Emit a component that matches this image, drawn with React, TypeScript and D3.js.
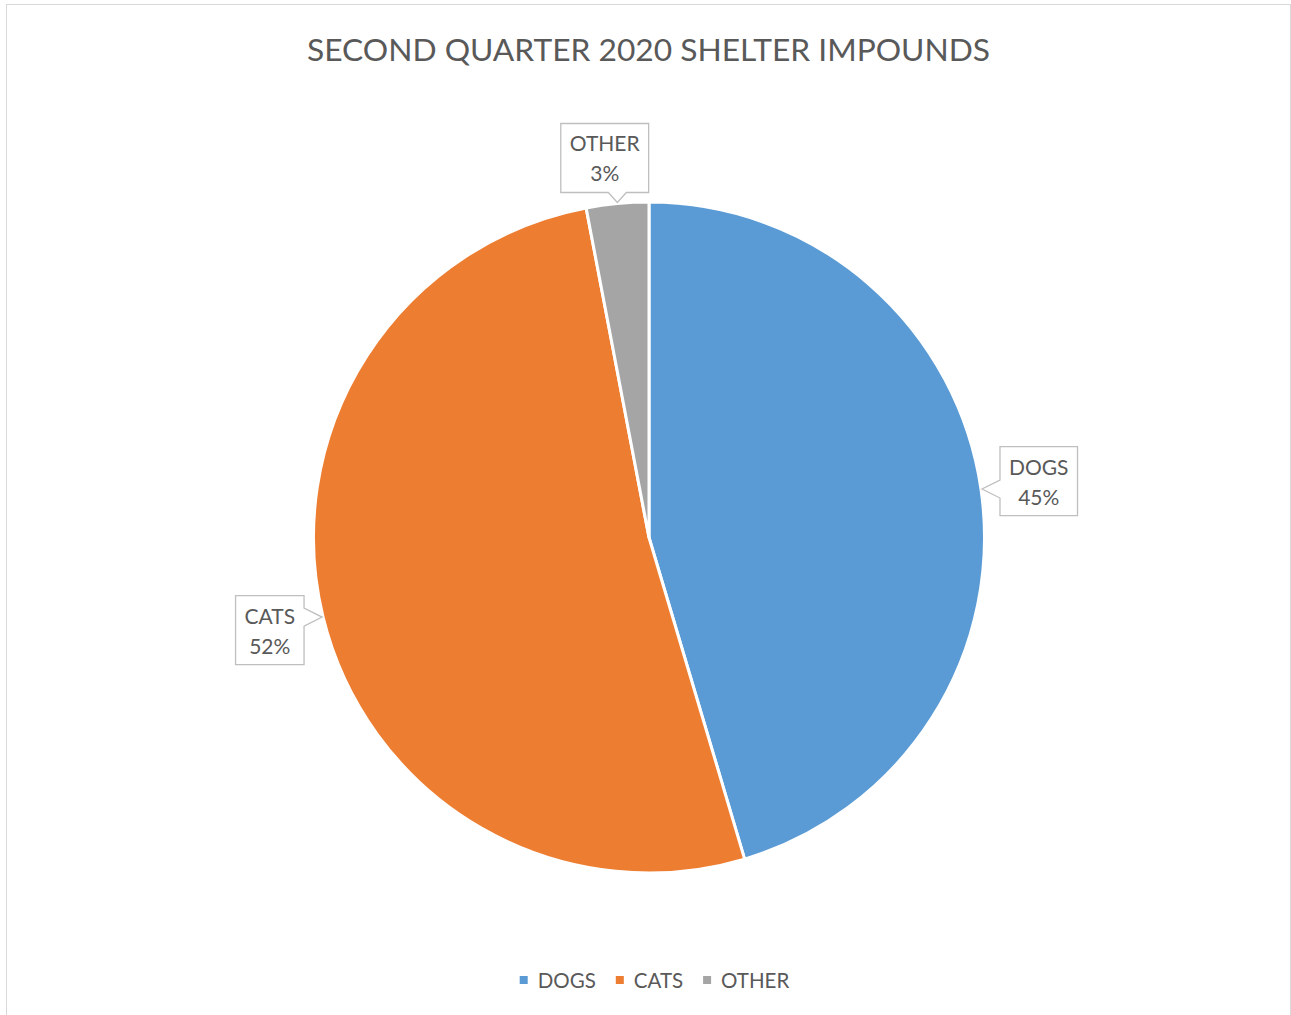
import React from 'react';
import * as d3 from 'd3';

const title = 'SECOND QUARTER 2020 SHELTER IMPOUNDS';
const categories = ['DOGS', 'CATS', 'OTHER'];
const shares = [45.4, 51.6, 3.0];
const colors = ['#5B9BD5', '#ED7D31', '#A5A5A5'];

const W = 1291;
const H = 1015;
const cx = 649;
const cy = 537.5;
const R = 335.5;
const FONT = 'Lato, "Open Sans", "DejaVu Sans", sans-serif';
const TEXT = '#595959';

function measure(text: string, size: number): number {
  const c = document.createElement('canvas');
  const ctx = c.getContext('2d')!;
  ctx.font = `${size}px Lato`;
  return ctx.measureText(text).width;
}

export default function App() {
  const total = d3.sum(shares);
  const pie = d3.pie<number>().sort(null).value((d) => d);
  const arcs = pie(shares);
  const arc = d3.arc<d3.PieArcDatum<number>>().innerRadius(0).outerRadius(R);

  const labelSize = 21;
  const legendSize = 20.5;

  // legend layout
  const sq = 8;
  const gapSqText = 10;
  const gapItems = 20;
  const widths = categories.map((c) => measure(c, legendSize));
  const itemWidths = widths.map((w) => sq + gapSqText + w);
  const legendTotal = d3.sum(itemWidths) + gapItems * (categories.length - 1);
  let lx = 654.5 - legendTotal / 2;
  const legendItems = categories.map((c, i) => {
    const x = lx;
    lx += itemWidths[i] + gapItems;
    return { c, x, color: colors[i] };
  });

  return (
    <svg width={W} height={H} style={{ position: 'absolute', left: 0, top: 0, background: '#fff' }}>
      <rect x={6.5} y={4.5} width={1284} height={H} fill="#fff" stroke="#D9D9D9" strokeWidth={1} />
      <text
        x={648.5}
        y={61}
        textAnchor="middle"
        fontFamily={FONT}
        fontSize={31}
        fill={TEXT}
        textLength={683}
        lengthAdjust="spacingAndGlyphs"
      >
        {title}
      </text>
      <g transform={`translate(${cx},${cy})`}>
        {arcs.map((a, i) => (
          <path key={i} d={arc(a) || ''} fill={colors[i]} stroke="#fff" strokeWidth={3} strokeLinejoin="round" />
        ))}
      </g>
      {arcs.map((a, i) => {
        const mid = (a.startAngle + a.endAngle) / 2;
        const s = Math.sin(mid);
        const c = Math.cos(mid);
        const tx = cx + (R + 1) * s;
        const ty = cy - (R + 1) * c;
        const lr = R + 50;
        const pct = Math.round((shares[i] / total) * 100) + '%';
        const tw = Math.max(measure(categories[i], labelSize), measure(pct, labelSize));
        const bw = tw + 18;
        const bh = 69;
        const horizontal = Math.abs(s) > Math.abs(c);
        let bx: number;
        let by: number;
        if (horizontal) {
          bx = s > 0 ? tx + 18 + bw / 2 : tx - 18 - bw / 2;
          by = ty - c * 55;
        } else {
          bx = cx + lr * s - 8;
          by = c > 0 ? ty - 10 - bh / 2 : ty + 10 + bh / 2;
        }
        const x0 = bx - bw / 2;
        const x1 = bx + bw / 2;
        const y0 = by - bh / 2;
        const y1 = by + bh / 2;
        const hw = 9;
        let pts: [number, number][];
        if (horizontal) {
          const py = Math.min(Math.max(ty, y0 + hw), y1 - hw);
          if (s > 0) {
            pts = [[x0, y0], [x1, y0], [x1, y1], [x0, y1], [x0, py + hw], [tx, ty], [x0, py - hw]];
          } else {
            pts = [[x0, y0], [x1, y0], [x1, py - hw], [tx, ty], [x1, py + hw], [x1, y1], [x0, y1]];
          }
        } else if (c > 0) {
          const px = Math.min(Math.max(tx, x0 + hw), x1 - hw);
          pts = [[x0, y0], [x1, y0], [x1, y1], [px + hw, y1], [tx, ty], [px - hw, y1], [x0, y1]];
        } else {
          const px = Math.min(Math.max(tx, x0 + hw), x1 - hw);
          pts = [[x0, y0], [px - hw, y0], [tx, ty], [px + hw, y0], [x1, y0], [x1, y1], [x0, y1]];
        }
        const d = 'M' + pts.map((p) => `${p[0]},${p[1]}`).join('L') + 'Z';
        return (
          <g key={i}>
            <path d={d} fill="#fff" stroke="#BFBFBF" strokeWidth={1.3} />
            <text x={bx} y={y0 + 28} textAnchor="middle" fontFamily={FONT} fontSize={labelSize} fill={TEXT}>
              {categories[i]}
            </text>
            <text x={bx} y={y0 + 58} textAnchor="middle" fontFamily={FONT} fontSize={labelSize} fill={TEXT}>
              {pct}
            </text>
          </g>
        );
      })}
      {legendItems.map((it, i) => (
        <g key={i}>
          <rect x={it.x} y={976} width={sq} height={sq} fill={it.color} />
          <text x={it.x + sq + gapSqText} y={988} fontFamily={FONT} fontSize={legendSize} fill={TEXT}>
            {it.c}
          </text>
        </g>
      ))}
    </svg>
  );
}
